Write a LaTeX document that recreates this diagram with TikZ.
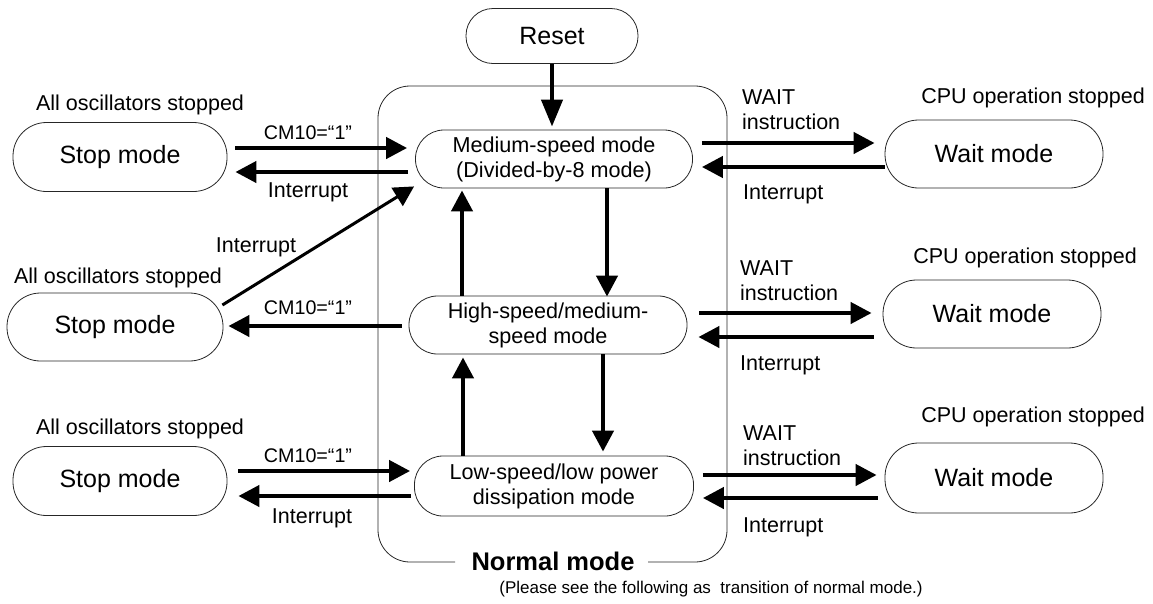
\documentclass[tikz,border=0pt]{standalone}
\usepackage{fontspec}
\setmainfont{Liberation Sans}
\usetikzlibrary{arrows.meta}
\tikzset{
  arr/.style={line width=4.3pt, -{Triangle[length=21pt,width=21pt]}},
  box/.style={draw=black!85, line width=0.8pt, align=center, inner sep=0pt},
  bigbox/.style={box, rounded corners=33.5pt, font=\fontsize{25}{29}\selectfont},
  innerbox/.style={box, rounded corners=28.5pt, font=\fontsize{21.6}{25}\selectfont},
  lbl/.style={font=\fontsize{21.5}{25}\selectfont, inner sep=0pt},
  smalllbl/.style={font=\fontsize{19.7}{23}\selectfont, inner sep=0pt},
}
\begin{document}
\begin{tikzpicture}[x=1pt,y=-1pt]
\useasboundingbox (0,0) rectangle (1153,603);
% Normal mode frame
\draw[draw=black!85, line width=0.8pt, rounded corners=32pt]
  (455,562) -- (378,562) -- (378,86) -- (727,86) -- (727,562) -- (648,562);
\node[font=\bfseries\fontsize{25.5}{29}\selectfont, inner sep=0pt] (normal) at (553,561) {Normal mode};
\node[font=\fontsize{17}{20}\selectfont, inner sep=0pt] (note) at (711,589) {(Please see the following as\ \ transition of normal mode.)};

% nodes
\node[bigbox, rounded corners=27pt, minimum width=172pt, minimum height=55pt] (reset) at (552,36) {Reset};
\node[innerbox, minimum width=277pt, minimum height=58pt] (medium) at (554,159) {Medium-speed mode\\(Divided-by-8 mode)};
\node[innerbox, minimum width=278pt, minimum height=58pt] (high) at (548,325) {High-speed/medium-\\speed mode};
\node[innerbox, minimum width=279pt, minimum height=60pt] (low) at (554,486) {Low-speed/low power\\dissipation mode};

\node[bigbox, minimum width=214pt, minimum height=69pt] (stop1) at (120,157) {Stop mode};
\node[bigbox, minimum width=216pt, minimum height=68pt] (stop2) at (115,327) {Stop mode};
\node[bigbox, minimum width=214pt, minimum height=69pt] (stop3) at (120,481) {Stop mode};

\node[bigbox, minimum width=218pt, minimum height=68pt] (wait1) at (994,154) {Wait mode};
\node[bigbox, minimum width=218pt, minimum height=68pt] (wait2) at (992,314) {Wait mode};
\node[bigbox, minimum width=218pt, minimum height=70pt] (wait3) at (994,478) {Wait mode};

% labels
\node[lbl] (os1) at (140,105) {All oscillators stopped};
\node[lbl] (os2) at (118,278) {All oscillators stopped};
\node[lbl] (os3) at (140,429) {All oscillators stopped};
\node[lbl] (cpu1) at (1033,98) {CPU operation stopped};
\node[lbl] (cpu2) at (1025,258) {CPU operation stopped};
\node[lbl] (cpu3) at (1033,417) {CPU operation stopped};

\node[smalllbl] (cm1) at (308,133) {CM10=“1”};
\node[smalllbl] (cm2) at (308,308) {CM10=“1”};
\node[smalllbl] (cm3) at (308,456) {CM10=“1”};
\node[lbl] (il1) at (308,192) {Interrupt};
\node[lbl] (il2) at (256,247) {Interrupt};
\node[lbl] (il3) at (312,518) {Interrupt};

\node[lbl, anchor=west, align=left] (wi1) at (742,110) {WAIT\\instruction};
\node[lbl, anchor=west, align=left] (wi2) at (740,281) {WAIT\\instruction};
\node[lbl, anchor=west, align=left] (wi3) at (743,446) {WAIT\\instruction};
\node[lbl, anchor=west] (ir1) at (743,194) {Interrupt};
\node[lbl, anchor=west] (ir2) at (740,365) {Interrupt};
\node[lbl, anchor=west] (ir3) at (743,527) {Interrupt};

% vertical arrows
\draw[line width=4.3pt, -{Triangle[length=27pt,width=21pt]}] (reset.south) -- ([yshift=3pt]reset.south |- medium.north);
\draw[arr] (medium.south -| 607,0) -- ([yshift=-1pt]high.north -| 607,0);
\draw[arr] (high.north -| 462,0) -- ([yshift=-2pt]medium.south -| 462,0);
\draw[arr] (high.south -| 603,0) -- ([yshift=4pt]low.north -| 603,0);
\draw[arr] (low.north -| 463,0) -- ([yshift=-3pt]high.south -| 463,0);

% left arrows
\draw[arr] ([xshift=8pt]stop1.east |- 0,148) -- ([xshift=-8pt]medium.west |- 0,148);
\draw[arr] ([xshift=-7pt]medium.west |- 0,172) -- ([xshift=8pt]stop1.east |- 0,172);
\draw[arr] ([xshift=-7pt]high.west |- 0,326) -- ([xshift=5pt]stop2.east |- 0,326);
\draw[line width=3pt, -{Triangle[length=20pt,width=21pt]}] ([xshift=-1pt,yshift=22pt]stop2.east) -- ([xshift=-1pt,yshift=2pt]medium.south west);
\draw[arr] ([xshift=11pt]stop3.east |- 0,471) -- ([xshift=-4pt]low.west |- 0,471);
\draw[arr] ([xshift=-3pt]low.west |- 0,496) -- ([xshift=11pt]stop3.east |- 0,496);

% right arrows
\draw[arr] ([xshift=9pt]medium.east |- 0,143) -- ([xshift=-10pt]wait1.west |- 0,143);
\draw[arr] (wait1.west |- 0,167) -- ([xshift=9pt]medium.east |- 0,167);
\draw[arr] ([xshift=12pt]high.east |- 0,313) -- ([xshift=-11pt]wait2.west |- 0,313);
\draw[arr] ([xshift=-9pt]wait2.west |- 0,337) -- ([xshift=11pt]high.east |- 0,337);
\draw[arr] ([xshift=9pt]low.east |- 0,475) -- ([xshift=-8pt]wait3.west |- 0,475);
\draw[arr] ([xshift=-7pt]wait3.west |- 0,498) -- ([xshift=9pt]low.east |- 0,498);
\end{tikzpicture}
\end{document}
